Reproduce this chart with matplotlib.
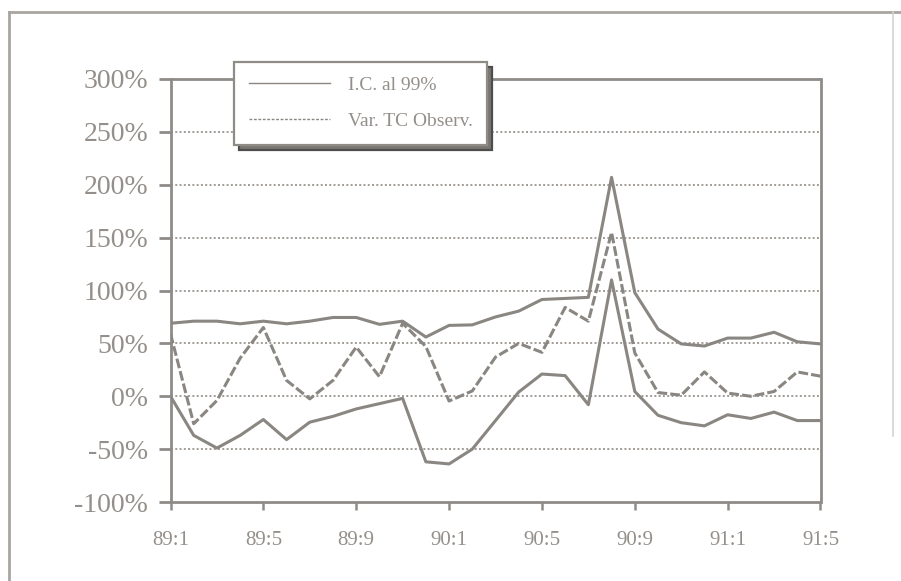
import matplotlib.pyplot as plt
from matplotlib.lines import Line2D

# Serie mensual 89:1 - 91:5
meses = list(range(29))
etiquetas_x = ["89:1", "89:5", "89:9", "90:1", "90:5", "90:9", "91:1", "91:5"]
pos_x = [0, 4, 8, 12, 16, 20, 24, 28]

# Bandas del intervalo de confianza (%)
ic_sup = [69, 71, 71, 68.5, 71, 68.5, 71, 74.5, 74.5, 68, 71, 56, 67, 67.5, 75,
          80.5, 91.5, 92.5, 93.5, 207, 98, 63.5, 49.5, 47.5, 55, 55, 60.5, 51.5, 49.5]
ic_inf = [0, -37, -49, -37, -22, -41, -24.5, -19, -12, -7, -2, -62, -64, -50, -23,
          4, 21, 19.5, -8, 110, 4.5, -18, -25, -28, -17.5, -21, -15, -23, -23]
# Variacion observada del tipo de cambio (%)
var_obs = [59, -26, -4, 36, 65, 15, -2.5, 15, 46.5, 18.5, 69, 47, -4.5, 5, 37,
           50, 41.5, 84, 71, 155, 41, 3.5, 1, 23, 3, 0, 4.5, 23, 19]

y_ticks = [-100, -50, 0, 50, 100, 150, 200, 250, 300]
y_labels = ["-100%", "-50%", "0%", "50%", "100%", "150%", "200%", "250%", "300%"]

gris = "#8a8681"
gris_txt = "#948f8a"
gris_ejes = "#8f8b87"

plt.rcParams['font.family'] = ['Liberation Serif', 'DejaVu Serif']

fig = plt.figure(figsize=(9.01, 5.81), dpi=100)
ax = fig.add_axes([170.5 / 901, 1 - 502 / 581, 650 / 901, 423 / 581])

# lineas de referencia horizontales
for y in y_ticks[1:-1]:
    ax.axhline(y, color="#a09b96", lw=1.4, ls=(0, (1, 1.2)), zorder=1)

ax.plot(meses, ic_sup, color=gris, lw=2.2, zorder=3)
ax.plot(meses, ic_inf, color=gris, lw=2.2, zorder=3)
ax.plot(meses, var_obs, color=gris, lw=2.2, dashes=(3.2, 1.0), zorder=3)

ax.set_xlim(0, 28)
ax.set_ylim(-100, 300)
ax.set_xticks(pos_x)
ax.set_xticklabels(etiquetas_x)
ax.set_yticks(y_ticks)
ax.set_yticklabels(y_labels)

for s in ax.spines.values():
    s.set_color(gris_ejes)
    s.set_linewidth(2.0)

ax.tick_params(axis="y", direction="out", length=9, width=2.0, color=gris_ejes,
               labelsize=20, labelcolor=gris_txt, pad=7)
ax.tick_params(axis="x", direction="out", length=6, width=1.8, color=gris_ejes,
               labelsize=15, labelcolor=gris_txt, pad=15)

# leyenda con sombra
handles = [Line2D([], [], color=gris, lw=1.0),
           Line2D([], [], color=gris, lw=1.0, ls=(0, (2, 1.2)))]
leg = fig.legend(handles, ["I.C. al 99%", "Var. TC Observ."],
                 loc="upper left", bbox_to_anchor=(234 / 901, 1 - 62 / 581),
                 fontsize=14, labelcolor=gris_txt, frameon=True, fancybox=False,
                 borderaxespad=0, borderpad=0.75, handlelength=4.2,
                 handletextpad=0.9, labelspacing=0.95,
                 shadow={"ox": 3.5, "oy": -3.5, "facecolor": "#7a7672", "alpha": 1})
leg.get_frame().set_edgecolor(gris_ejes)
leg.get_frame().set_linewidth(1.6)
leg.set_zorder(5)

# marco exterior
fig.add_artist(Line2D([9 / 901, 9 / 901], [0, 1 - 12 / 581], color="#a9a5a0", lw=2.0))
fig.add_artist(Line2D([9 / 901, 1], [1 - 12 / 581, 1 - 12 / 581], color="#a9a5a0", lw=2.0))
fig.add_artist(Line2D([893 / 901, 893 / 901], [1 - 12 / 581, 0.25], color="#d5d2cf", lw=1.2))

fig.savefig("out.png", dpi=100)
